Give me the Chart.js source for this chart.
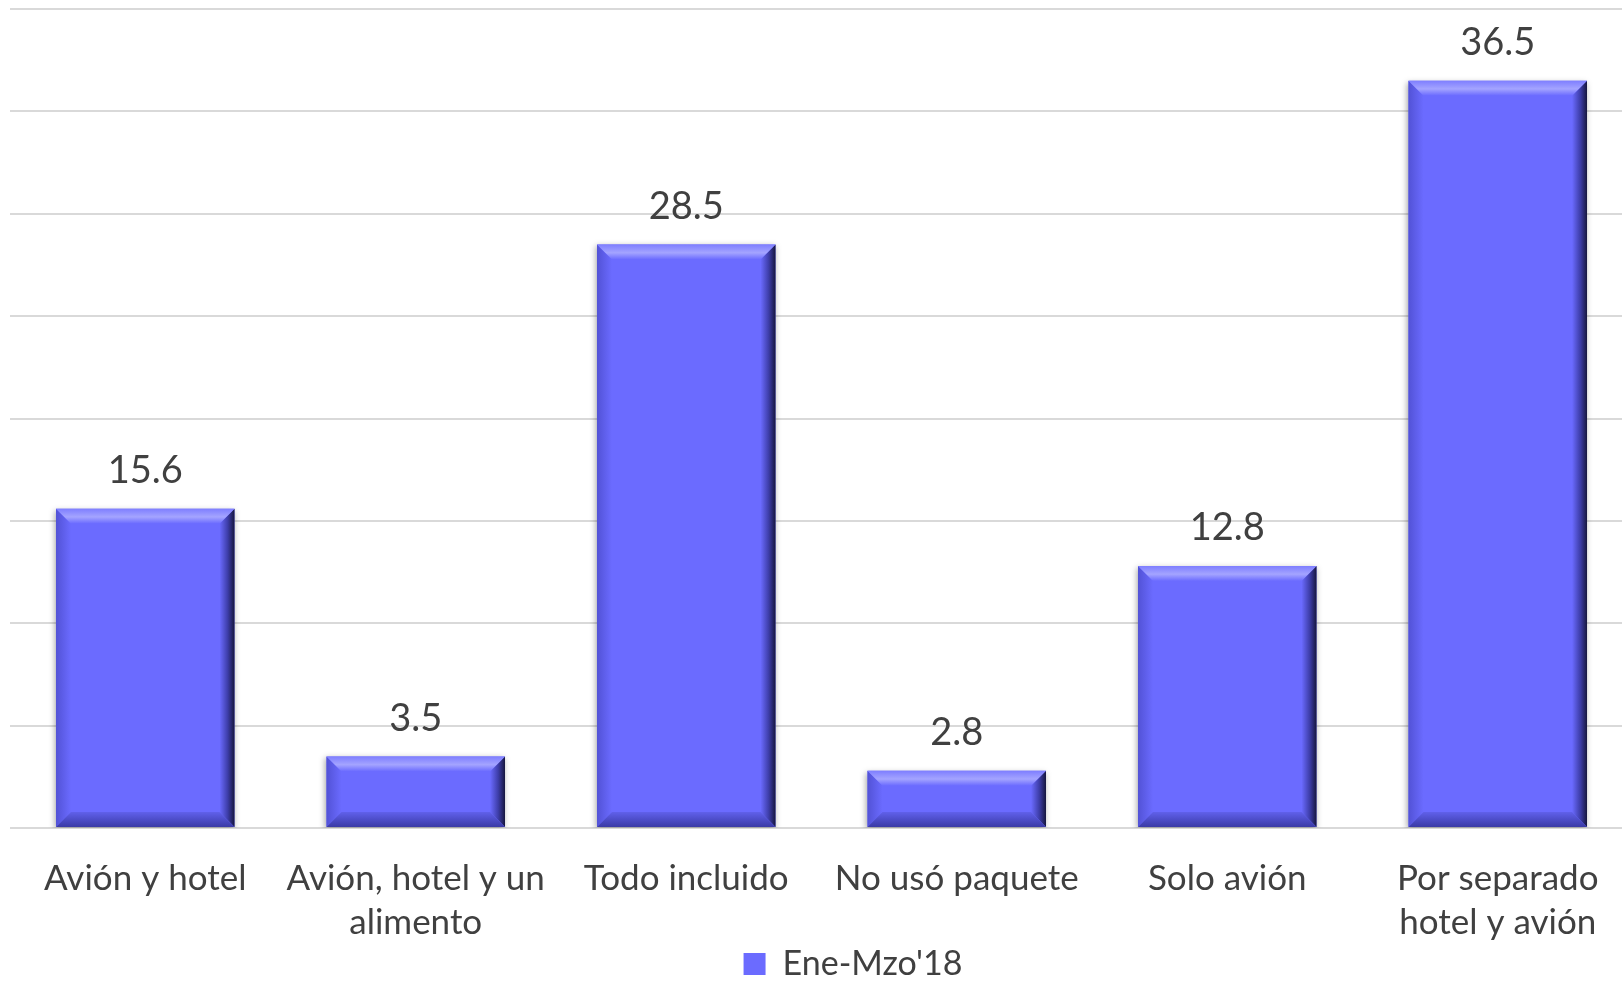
<!DOCTYPE html>
<html>
<head>
<meta charset="utf-8">
<script src="https://cdn.jsdelivr.net/npm/chart.js@4.4.1/dist/chart.umd.min.js"></script>
<style>
  html, body { margin: 0; padding: 0; background: #fff; overflow: hidden; }
  .chart-container { width: 1622px; height: 981px; overflow: hidden; }
</style>
</head>
<body>
<div class="chart-container">
  <canvas id="myChart" width="1696" height="991"></canvas>
</div>
<script>
const categories = [
  'Avión y hotel',
  ['Avión, hotel y un', 'alimento'],
  'Todo incluido',
  'No usó paquete',
  'Solo avión',
  ['Por separado', 'hotel y avión'],
];
const seriesLabel = "Ene-Mzo'18";
const values = [15.6, 3.5, 28.5, 2.8, 12.8, 36.5];

const BAR = '#6b6bff';
const TEXT = '#404040';

// soft shadow under the bars
const barShadow = {
  id: 'barShadow',
  beforeDatasetsDraw(chart) {
    const ctx = chart.ctx;
    ctx.save();
    ctx.shadowColor = 'rgba(0,0,0,0.35)';
    ctx.shadowBlur = 6;
    ctx.shadowOffsetX = -1;
    ctx.shadowOffsetY = 2;
  },
  afterDatasetsDraw(chart) {
    chart.ctx.restore();
  },
};

// bevel edges drawn on top of each bar element
const bevel = {
  id: 'bevel',
  afterDatasetsDraw(chart) {
    const ctx = chart.ctx;
    chart.getDatasetMeta(0).data.forEach(bar => {
      const l = bar.x - bar.width / 2, r = bar.x + bar.width / 2;
      const t = bar.y, b = bar.base;
      const s = 15;
      const poly = (pts, fill) => {
        ctx.beginPath();
        ctx.moveTo(pts[0][0], pts[0][1]);
        pts.slice(1).forEach(p => ctx.lineTo(p[0], p[1]));
        ctx.closePath();
        ctx.fillStyle = fill;
        ctx.fill();
      };
      let g = ctx.createLinearGradient(l, 0, l + s, 0);
      g.addColorStop(0, '#5252d6');
      g.addColorStop(1, BAR);
      poly([[l, t], [l + s, t + s], [l + s, b - s], [l, b]], g);

      g = ctx.createLinearGradient(r - s, 0, r, 0);
      g.addColorStop(0, BAR);
      g.addColorStop(0.55, '#3d3da8');
      g.addColorStop(1, '#16163e');
      poly([[r, t], [r - s, t + s], [r - s, b - s], [r, b]], g);

      g = ctx.createLinearGradient(0, b - s, 0, b);
      g.addColorStop(0, '#6060ea');
      g.addColorStop(1, '#3a3aa6');
      poly([[l, b], [l + s, b - s], [r - s, b - s], [r, b]], g);

      g = ctx.createLinearGradient(0, t, 0, t + s);
      g.addColorStop(0, '#7e7eff');
      g.addColorStop(0.55, '#a4a4ff');
      g.addColorStop(1, BAR);
      poly([[l, t], [r, t], [r - s, t + s], [l + s, t + s]], g);
    });
  },
};

const valueLabels = {
  id: 'valueLabels',
  afterDatasetsDraw(chart) {
    const ctx = chart.ctx;
    const ds = chart.data.datasets[0];
    ctx.save();
    ctx.font = '38px Lato';
    ctx.fillStyle = TEXT;
    ctx.textAlign = 'center';
    ctx.textBaseline = 'middle';
    chart.getDatasetMeta(0).data.forEach((bar, i) => {
      ctx.fillText(ds.data[i].toFixed(1), bar.x, bar.y - 38);
    });
    ctx.restore();
  },
};

const ctx = document.getElementById('myChart');
new Chart(ctx, {
  type: 'bar',
  data: {
    labels: categories,
    datasets: [{
      label: seriesLabel,
      data: values,
      backgroundColor: BAR,
      borderWidth: 0,
      categoryPercentage: 1,
      barPercentage: 0.66,
    }],
  },
  options: {
    responsive: false,
    animation: false,
    layout: { padding: { left: 10, right: 0, top: 9, bottom: 0 } },
    plugins: {
      tooltip: { enabled: false },
      legend: {
        position: 'bottom',
        labels: {
          color: TEXT,
          font: { family: 'Lato', size: 34 },
          boxWidth: 22,
          boxHeight: 22,
          padding: 0,
        },
      },
    },
    scales: {
      x: {
        grid: { display: false },
        border: { display: false },
        ticks: {
          color: TEXT,
          font: { family: 'Lato', size: 35, lineHeight: 1.27 },
          padding: 20,
          maxRotation: 0,
          autoSkip: false,
        },
        afterFit: scale => { scale.height -= 18; },
      },
      y: {
        position: 'right',
        min: 0,
        max: 40,
        grid: { color: '#d9d9d9', lineWidth: 2, drawTicks: false },
        border: { display: false },
        ticks: { display: false, stepSize: 5 },
        afterFit: scale => { scale.width = 63; },
      },
    },
  },
  plugins: [barShadow, bevel, valueLabels],
});
</script>
</body>
</html>
